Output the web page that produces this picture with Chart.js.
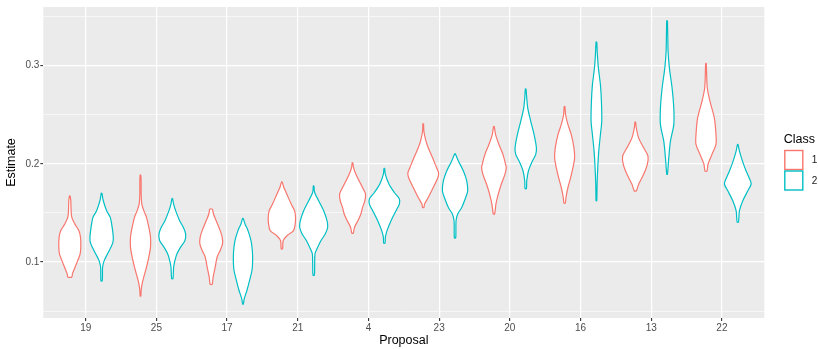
<!DOCTYPE html>
<html>
<head>
<meta charset="utf-8">
<script src="https://cdn.jsdelivr.net/npm/chart.js@4/dist/chart.umd.min.js"></script>
<style>
  html, body { margin: 0; padding: 0; background: #FFFFFF; }
  #wrap { width: 818px; height: 349px; }
</style>
</head>
<body>
<div id="wrap"><canvas id="c" width="818" height="349"></canvas></div>
<script>
// ---------------- data ----------------
const categories = ['19', '25', '17', '21', '4', '23', '20', '16', '13', '22'];
const classLabels = ['1', '2'];
const yTickValues = [0.1, 0.2, 0.3];

// Estimate values (top to bottom) and relative kernel density at each value, Class 1
const class1Estimate = [
  [0.1674, 0.1624, 0.1523, 0.1455, 0.1388, 0.1320, 0.1253, 0.1152, 0.1084, 0.1017, 0.0949, 0.0882, 0.0848],
  [0.1887, 0.1826, 0.1691, 0.1590, 0.1523, 0.1455, 0.1354, 0.1253, 0.1152, 0.1051, 0.0949, 0.0848, 0.0781, 0.0713, 0.0653],
  [0.1539, 0.1489, 0.1421, 0.1320, 0.1253, 0.1185, 0.1118, 0.1051, 0.0949, 0.0848, 0.0774],
  [0.1816, 0.1759, 0.1691, 0.1590, 0.1523, 0.1455, 0.1388, 0.1320, 0.1270, 0.1219, 0.1135],
  [0.2011, 0.1961, 0.1893, 0.1792, 0.1725, 0.1691, 0.1624, 0.1556, 0.1489, 0.1421, 0.1354, 0.1293],
  [0.2409, 0.2332, 0.2247, 0.2163, 0.2062, 0.1961, 0.1910, 0.1860, 0.1759, 0.1657, 0.1590, 0.1556],
  [0.2382, 0.2298, 0.2197, 0.2096, 0.1995, 0.1961, 0.1893, 0.1792, 0.1691, 0.1590, 0.1489],
  [0.2585, 0.2500, 0.2399, 0.2298, 0.2163, 0.2062, 0.1961, 0.1860, 0.1759, 0.1657, 0.1600],
  [0.2426, 0.2365, 0.2264, 0.2163, 0.2079, 0.1995, 0.1893, 0.1792, 0.1725],
  [0.3023, 0.2905, 0.2770, 0.2635, 0.2467, 0.2298, 0.2197, 0.2096, 0.1995, 0.1927]
];
const class1Density = [
  [1, 3, 4, 6, 15, 27, 32, 33, 31, 24, 16, 8, 6],
  [1, 2, 2, 4, 10, 18, 25, 30, 30, 25, 18, 10, 5, 2, 1],
  [4, 7, 15, 27, 33, 34, 27, 18, 12, 6, 3],
  [1, 6, 15, 28, 38, 41, 40, 35, 16, 4, 2],
  [1, 3, 10, 25, 35, 39, 37, 30, 25, 16, 6, 2],
  [1, 2, 7, 15, 28, 40, 46, 44, 30, 15, 4, 2],
  [1, 5, 15, 27, 35, 37, 33, 22, 13, 6, 2],
  [1, 3, 10, 20, 28, 30, 25, 18, 10, 4, 2],
  [1, 3, 10, 25, 38, 36, 25, 10, 3],
  [1, 2, 4, 12, 25, 30, 30, 18, 6, 3]
];

// Class 2
const class2Estimate = [
  [0.1701, 0.1624, 0.1523, 0.1455, 0.1388, 0.1320, 0.1253, 0.1202, 0.1152, 0.1084, 0.1017, 0.0949, 0.0808],
  [0.1647, 0.1590, 0.1523, 0.1421, 0.1354, 0.1287, 0.1219, 0.1152, 0.1084, 0.1017, 0.0949, 0.0831],
  [0.1445, 0.1388, 0.1320, 0.1219, 0.1118, 0.1017, 0.0916, 0.0815, 0.0713, 0.0629, 0.0572],
  [0.1775, 0.1708, 0.1624, 0.1523, 0.1421, 0.1354, 0.1287, 0.1219, 0.1135, 0.1084, 0.0983, 0.0865],
  [0.1954, 0.1893, 0.1792, 0.1708, 0.1641, 0.1590, 0.1523, 0.1421, 0.1320, 0.1253, 0.1192],
  [0.2103, 0.2028, 0.1927, 0.1826, 0.1725, 0.1657, 0.1556, 0.1489, 0.1421, 0.1246],
  [0.2763, 0.2669, 0.2568, 0.2433, 0.2298, 0.2163, 0.2096, 0.2028, 0.1927, 0.1826, 0.1748],
  [0.3242, 0.3107, 0.2972, 0.2804, 0.2635, 0.2433, 0.2298, 0.2129, 0.1961, 0.1792, 0.1624],
  [0.3458, 0.3310, 0.3141, 0.2972, 0.2770, 0.2568, 0.2399, 0.2231, 0.2062, 0.1893],
  [0.2197, 0.2129, 0.2028, 0.1927, 0.1826, 0.1792, 0.1725, 0.1624, 0.1523, 0.1405]
];
const class2Density = [
  [1, 5, 15, 26, 30, 33, 35, 34, 28, 18, 8, 3, 2],
  [1, 4, 10, 22, 33, 40, 38, 25, 14, 8, 4, 2],
  [1, 6, 15, 24, 28, 29, 27, 20, 12, 4, 1],
  [1, 3, 15, 30, 40, 42, 35, 22, 10, 4, 3, 2],
  [1, 3, 14, 30, 45, 45, 35, 20, 8, 3, 2],
  [1, 10, 25, 35, 38, 32, 20, 8, 3, 2],
  [1, 3, 6, 15, 25, 32, 30, 20, 8, 3, 2],
  [1, 3, 6, 12, 15, 16, 12, 7, 4, 2, 1],
  [1, 2, 3, 7, 15, 20, 20, 10, 5, 1],
  [1, 5, 14, 25, 38, 40, 30, 15, 5, 2]
];

// ---------------- style ----------------
const classColors = ['#F8766D', '#00BFC4'];
const DODGE = 0.225;              // half of dodge width 0.9 / 2 groups
const DENSITY_TO_WIDTH = 1 / 212; // density units -> category units
const FONT = '"Liberation Sans", Arial, Helvetica, sans-serif';

function violinPoints(est, dens, center) {
  const right = est.map((y, i) => ({ x: center + dens[i] * DENSITY_TO_WIDTH, y }));
  const left = est.map((y, i) => ({ x: center - dens[i] * DENSITY_TO_WIDTH, y })).reverse();
  return right.concat(left, [right[0]]);
}

const estimates = [class1Estimate, class2Estimate];
const densities = [class1Density, class2Density];
const datasets = [];
categories.forEach((cat, ci) => {
  classLabels.forEach((cl, k) => {
    const center = ci + 1 + (k === 0 ? -DODGE : DODGE);
    datasets.push({
      label: 'Class ' + cl + ' / ' + cat,
      data: violinPoints(estimates[k][ci], densities[k][ci], center),
      showLine: true,
      borderColor: classColors[k],
      backgroundColor: '#FFFFFF',
      borderWidth: 1.2,
      pointRadius: 0,
      pointHoverRadius: 0,
      tension: 0.3,
      fill: false
    });
  });
});

const isMajor = v => Math.abs(v * 10 - Math.round(v * 10)) < 1e-6;

const panelBg = {
  id: 'panelBg',
  beforeDraw(chart) {
    const a = chart.chartArea, ctx = chart.ctx;
    ctx.save();
    ctx.fillStyle = '#EBEBEB';
    ctx.fillRect(a.left, a.top, a.right - a.left, a.bottom - a.top);
    ctx.restore();
  }
};

const violinFill = {
  id: 'violinFill',
  beforeDatasetDraw(chart, args) {
    const line = args.meta.dataset;
    if (!line) return;
    const ctx = chart.ctx, a = chart.chartArea;
    ctx.save();
    ctx.beginPath();
    ctx.rect(a.left, a.top, a.right - a.left, a.bottom - a.top);
    ctx.clip();
    ctx.beginPath();
    try {
      line.updateControlPoints(a, 'x');
      line.path(ctx);
    } catch (e) {
      const pts = args.meta.data;
      pts.forEach((p, i) => i ? ctx.lineTo(p.x, p.y) : ctx.moveTo(p.x, p.y));
    }
    ctx.closePath();
    ctx.fillStyle = '#FFFFFF';
    ctx.fill();
    ctx.restore();
  }
};

const legendPlugin = {
  id: 'ggLegend',
  afterDraw(chart) {
    const ctx = chart.ctx;
    const x0 = chart.chartArea.right + 20;
    ctx.save();
    ctx.fillStyle = '#000000';
    ctx.font = '12.5px ' + FONT;
    ctx.textBaseline = 'alphabetic';
    ctx.textAlign = 'left';
    ctx.fillText('Class', x0 - 0.5, 142.7);
    classLabels.forEach((cl, k) => {
      const top = 150.5 + k * 20.5;
      ctx.fillStyle = '#FFFFFF';
      ctx.fillRect(x0 + 0.5, top, 18, 19);
      ctx.strokeStyle = classColors[k];
      ctx.lineWidth = 1.4;
      ctx.strokeRect(x0 + 0.5, top, 18, 19);
      ctx.fillStyle = '#1A1A1A';
      ctx.font = '10px ' + FONT;
      ctx.textBaseline = 'middle';
      ctx.fillText(cl, x0 + 27.5, top + 10);
    });
    ctx.restore();
  }
};

new Chart(document.getElementById('c'), {
  type: 'scatter',
  data: { datasets },
  plugins: [panelBg, violinFill, legendPlugin],
  options: {
    responsive: false,
    animation: false,
    events: [],
    layout: { padding: { left: 0, right: 53.7, top: 5, bottom: 0 } },
    plugins: { legend: { display: false }, tooltip: { enabled: false } },
    scales: {
      x: {
        type: 'linear',
        min: 0.4,
        max: 10.6,
        afterBuildTicks: s => { s.ticks = categories.map((c, i) => ({ value: i + 1 })); },
        afterFit: s => { s.height = 31; },
        ticks: {
          autoSkip: false,
          maxRotation: 0,
          callback: v => categories[Math.round(v) - 1],
          color: '#4D4D4D',
          font: { size: 10, family: FONT },
          padding: 1
        },
        grid: { color: '#FFFFFF', lineWidth: 1.2, tickLength: 3, tickColor: '#333333', tickWidth: 1.1 },
        border: { display: false },
        title: {
          display: true, text: 'Proposal', color: '#000000',
          font: { size: 12.5, family: FONT }, padding: { top: 0, bottom: 1 }
        }
      },
      y: {
        type: 'linear',
        min: 0.043,
        max: 0.3597,
        afterFit: s => { s.width = 43.3; },
        ticks: {
          stepSize: 0.05,
          includeBounds: false,
          callback: v => (yTickValues.some(t => Math.abs(t - v) < 1e-6) ? v.toFixed(1) : ''),
          color: '#4D4D4D',
          font: { size: 10, family: FONT },
          padding: 1
        },
        grid: {
          color: '#FFFFFF',
          lineWidth: c => (c.tick && isMajor(c.tick.value) ? 1.2 : 0.6),
          tickLength: 3,
          tickColor: c => (c.tick && isMajor(c.tick.value) ? '#333333' : 'rgba(0,0,0,0)'),
          tickWidth: 1.1
        },
        border: { display: false },
        title: {
          display: true, text: 'Estimate', color: '#000000',
          font: { size: 12.5, family: FONT }, padding: { top: 4, bottom: 0 }
        }
      }
    }
  }
});
</script>
</body>
</html>
